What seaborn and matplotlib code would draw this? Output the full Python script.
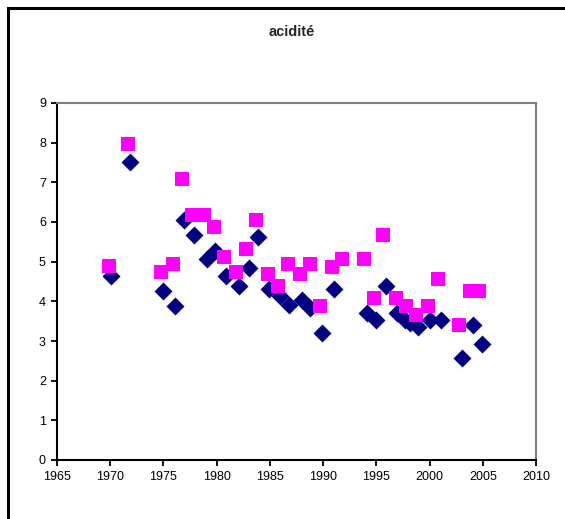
import matplotlib
matplotlib.use("Agg")
import matplotlib.pyplot as plt
import matplotlib.patches as mpatches
import seaborn as sns
import pandas as pd

# Series 1 (navy diamonds)
years_a = [1970.08, 1971.86, 1974.96, 1976.09, 1976.94, 1977.88, 1979.10, 1979.85,
           1980.88, 1982.10, 1983.05, 1983.90, 1984.92, 1985.96, 1986.80, 1988.03,
           1988.78, 1989.90, 1991.03, 1994.14, 1994.98, 1995.92, 1996.95, 1997.70,
           1998.18, 1998.93, 2000.06, 2001.09, 2003.06, 2004.10, 2004.94]
values_a = [4.64, 7.51, 4.26, 3.88, 6.05, 5.67, 5.07, 5.27,
            4.64, 4.39, 4.84, 5.62, 4.31, 4.13, 3.90, 4.03,
            3.83, 3.20, 4.31, 3.70, 3.53, 4.39, 3.70, 3.53,
            3.45, 3.35, 3.53, 3.53, 2.57, 3.40, 2.92]

# Series 2 (magenta squares)
years_b = [1969.89, 1971.67, 1974.77, 1975.90, 1976.75, 1977.69, 1978.80, 1979.76,
           1980.70, 1981.82, 1982.76, 1983.70, 1984.83, 1985.77, 1986.71, 1987.84,
           1988.78, 1989.72, 1990.85, 1991.79, 1993.85, 1994.79, 1995.64, 1996.86,
           1997.80, 1998.74, 1999.87, 2000.81, 2002.78, 2003.80, 2004.66]
values_b = [4.89, 7.97, 4.74, 4.94, 7.08, 6.18, 6.18, 5.87,
            5.12, 4.74, 5.32, 6.05, 4.69, 4.39, 4.94, 4.69,
            4.94, 3.88, 4.87, 5.07, 5.07, 4.08, 5.67, 4.08,
            3.88, 3.65, 3.88, 4.56, 3.40, 4.26, 4.26]

title = "acidité"
x_ticks = [1965, 1970, 1975, 1980, 1985, 1990, 1995, 2000, 2005, 2010]
y_ticks = [0, 1, 2, 3, 4, 5, 6, 7, 8, 9]

df_a = pd.DataFrame({"année": years_a, "acidité": values_a})
df_b = pd.DataFrame({"année": years_b, "acidité": values_b})

sns.set_style("white")
plt.rcParams["font.family"] = ["Liberation Sans", "DejaVu Sans"]

fig = plt.figure(figsize=(5.65, 5.19), dpi=100)
ax = fig.add_axes([57 / 565, 1 - 460 / 519, (536 - 57) / 565, (460 - 103) / 519])

sns.scatterplot(data=df_a, x="année", y="acidité", marker="D", s=84,
                color="#000080", linewidth=0, ax=ax, zorder=3)
sns.scatterplot(data=df_b, x="année", y="acidité", marker="s", s=100,
                color="#FF00FF", linewidth=0, ax=ax, zorder=4)

ax.set_xlim(1965, 2010)
ax.set_ylim(0, 9)
ax.set_xticks(x_ticks)
ax.set_yticks(y_ticks)
ax.set_xlabel("")
ax.set_ylabel("")
ax.tick_params(axis="both", direction="out", length=4, width=1.3,
               labelsize=9, colors="black", pad=4, bottom=True, left=True)

for side in ["left", "bottom"]:
    ax.spines[side].set_color("black")
    ax.spines[side].set_linewidth(1.5)
for side in ["top", "right"]:
    ax.spines[side].set_color("#808080")
    ax.spines[side].set_linewidth(1.5)
    ax.spines[side].set_visible(True)

fig.text(292 / 565, 1 - 32 / 519, title, ha="center", va="center",
         fontsize=10.5, fontweight="bold")

border = mpatches.Rectangle((8 / 565, -0.2), 1.3, 0.2 + 1 - 8 / 519,
                            transform=fig.transFigure, fill=False,
                            edgecolor="black", linewidth=2.2, clip_on=False)
fig.patches.append(border)

fig.savefig("out.png", dpi=100)
